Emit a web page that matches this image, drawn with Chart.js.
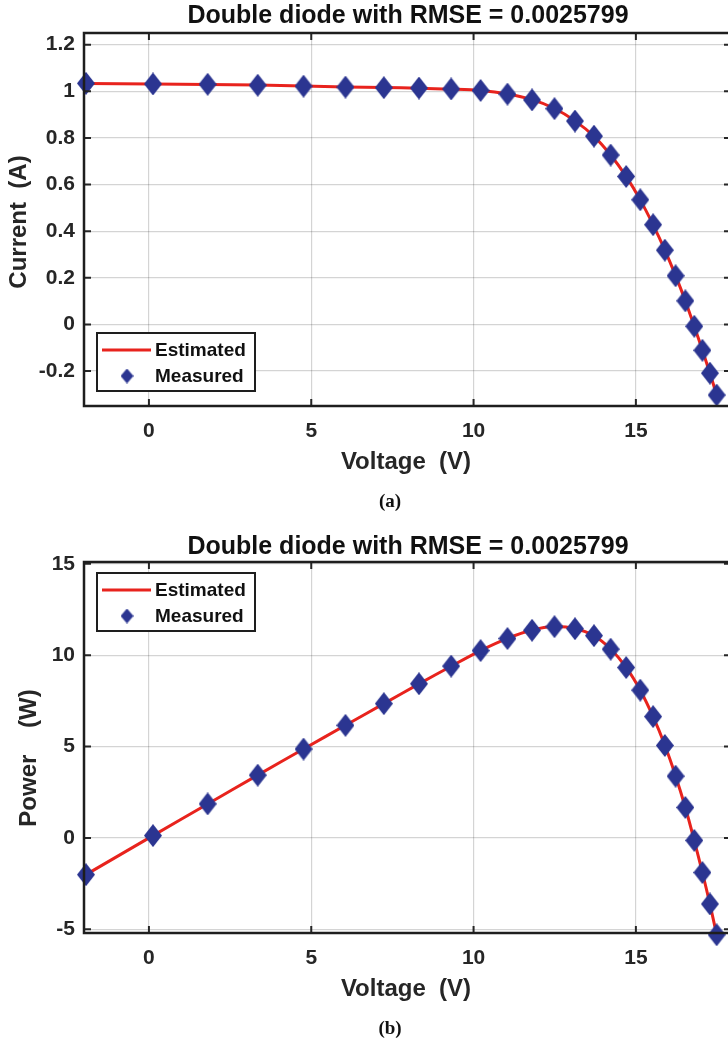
<!DOCTYPE html>
<html>
<head>
<meta charset="utf-8">
<script src="https://cdn.jsdelivr.net/npm/chart.js@4.4.1/dist/chart.umd.min.js"></script>
<style>
  html, body { margin: 0; padding: 0; background: #fff; }
  #wrap { position: relative; width: 728px; height: 1044px; overflow: hidden; }
  canvas { position: absolute; left: 0; }
</style>
</head>
<body>
<div id="wrap">
  <canvas id="ivChart" width="736" height="520" style="top:0"></canvas>
  <canvas id="pvChart" width="736" height="524" style="top:520px"></canvas>
</div>
<script>
// measured / estimated PV module data
const voltage = [-1.94, 0.1248, 1.8093, 3.3511, 4.7622, 6.0538, 7.2364, 8.3189, 9.3097, 10.2163, 11.0449, 11.8018, 12.4929,
  13.1231, 13.7094, 14.2221, 14.6995, 15.1346, 15.5311, 15.8929, 16.2229, 16.5241, 16.7987, 17.0499, 17.2793, 17.4885];
const measuredCurrent = [1.034, 1.0315, 1.030, 1.026, 1.022, 1.018, 1.0155, 1.014, 1.010, 1.0035, 0.988, 0.963, 0.9255,
  0.8725, 0.8075, 0.7265, 0.6345, 0.5345, 0.4275, 0.3185, 0.2085, 0.101, -0.008, -0.111, -0.209, -0.303];
const estimatedCurrent = [1.0335, 1.0312, 1.0294, 1.0268, 1.0225, 1.0183, 1.0158, 1.0132, 1.0091, 1.0031, 0.9884, 0.964, 0.9262,
  0.8731, 0.8069, 0.7268, 0.6348, 0.5341, 0.4271, 0.3189, 0.2092, 0.1008, -0.0085, -0.1112, -0.2088, -0.3027];
const measuredPower = [-2.006, 0.129, 1.864, 3.438, 4.867, 6.163, 7.349, 8.435, 9.403, 10.252, 10.912, 11.365, 11.562,
  11.450, 11.070, 10.332, 9.327, 8.089, 6.640, 5.062, 3.383, 1.669, -0.134, -1.893, -3.611, -5.299];
const estimatedPower = [-2.005, 0.1287, 1.8625, 3.4409, 4.8690, 6.1646, 7.3507, 8.4287, 9.3944, 10.2480, 10.9168, 11.3769, 11.5709,
  11.4578, 11.0622, 10.3366, 9.3312, 8.0834, 6.6335, 5.0683, 3.3938, 1.6656, -0.1428, -1.8960, -3.6079, -5.2948];

const voltageTicks = [0, 5, 10, 15];
const currentTicks = [-0.2, 0, 0.2, 0.4, 0.6, 0.8, 1, 1.2];
const powerTicks = [-5, 0, 5, 10, 15];

const titleText = 'Double diode with RMSE = 0.0025799';
const RED = '#e8231d';
const BLUE = '#2b3591';
const INK = '#262626';
const SANS = '"Liberation Sans", Arial, sans-serif';

function diamond(w, h) {
  const c = document.createElement('canvas');
  c.width = w; c.height = h;
  const g = c.getContext('2d');
  g.fillStyle = BLUE;
  g.beginPath();
  g.moveTo(w / 2, 0); g.lineTo(w, h / 2); g.lineTo(w / 2, h); g.lineTo(0, h / 2);
  g.closePath(); g.fill();
  return c;
}
const bigDiamond = diamond(18, 23);
const smallDiamond = diamond(13, 15);

function pts(xs, ys) {
  return xs.map((x, i) => ({ x: x, y: ys[i] }));
}

// axes box, inward ticks, titles, caption and the legend box
const framePlugin = {
  id: 'frame',
  afterDraw(chart, args, o) {
    const { ctx, chartArea: a, scales } = chart;
    ctx.save();
    ctx.strokeStyle = INK; ctx.lineWidth = 2;
    ctx.beginPath();
    scales.x.ticks.forEach(t => {
      const px = scales.x.getPixelForValue(t.value);
      ctx.moveTo(px, a.bottom); ctx.lineTo(px, a.bottom - 7);
      ctx.moveTo(px, a.top); ctx.lineTo(px, a.top + 7);
    });
    scales.y.ticks.forEach(t => {
      const py = scales.y.getPixelForValue(t.value);
      ctx.moveTo(a.left, py); ctx.lineTo(a.left + 7, py);
      ctx.moveTo(a.right, py); ctx.lineTo(a.right - 7, py);
    });
    ctx.stroke();
    ctx.lineWidth = 2.5; ctx.strokeStyle = '#1e1e1e';
    ctx.strokeRect(a.left, a.top, a.right - a.left + 2, a.bottom - a.top);

    ctx.fillStyle = '#111';
    ctx.textAlign = 'center'; ctx.textBaseline = 'middle';
    ctx.font = 'bold 25px ' + SANS;
    ctx.fillText(titleText, 408, o.titleY);
    ctx.fillStyle = INK;
    ctx.font = 'bold 24px ' + SANS;
    ctx.fillText('Voltage  (V)', 406, o.xTitleY);
    ctx.save();
    ctx.translate(o.yTitleX, o.yTitleY);
    ctx.rotate(-Math.PI / 2);
    ctx.fillText(o.yTitle, 0, 0);
    ctx.restore();
    ctx.fillStyle = '#111';
    ctx.font = 'bold 19px "Liberation Serif", "Times New Roman", serif';
    ctx.fillText(o.caption, 390, o.captionY);

    const lx = 97, ly = o.legendTop, lw = 158, lh = 58;
    ctx.fillStyle = '#fff';
    ctx.fillRect(lx, ly, lw, lh);
    ctx.lineWidth = 2; ctx.strokeStyle = '#1e1e1e';
    ctx.strokeRect(lx, ly, lw, lh);
    const ds = chart.data.datasets;
    const est = ds.find(d => d.showLine), meas = ds.find(d => !d.showLine);
    ctx.strokeStyle = RED; ctx.lineWidth = 3;
    ctx.beginPath(); ctx.moveTo(lx + 5, ly + 17); ctx.lineTo(lx + 54, ly + 17); ctx.stroke();
    ctx.drawImage(smallDiamond, lx + 30 - 6.5, ly + 43 - 7.5);
    ctx.fillStyle = '#111'; ctx.textAlign = 'left';
    ctx.font = 'bold 19px ' + SANS;
    ctx.fillText(est.label, lx + 58, ly + 18);
    ctx.fillText(meas.label, lx + 58, ly + 44);
    ctx.restore();
  }
};

function makeChart(id, measured, estimated, yMin, yMax, yTicks, o) {
  const h = document.getElementById(id).height;
  return new Chart(document.getElementById(id), {
    type: 'scatter',
    data: {
      datasets: [
        {
          label: 'Estimated',
          data: pts(voltage, estimated),
          showLine: true,
          borderColor: RED,
          borderWidth: 3,
          pointRadius: 0,
          tension: 0.3,
          clip: false,
          order: 2
        },
        {
          label: 'Measured',
          data: pts(voltage, measured),
          showLine: false,
          pointStyle: bigDiamond,
          backgroundColor: BLUE,
          clip: false,
          order: 1
        }
      ]
    },
    options: {
      responsive: false,
      animation: false,
      layout: { padding: { top: o.plotTop, right: 0, left: 0, bottom: 0 } },
      plugins: { legend: { display: false }, tooltip: { enabled: false }, frame: o },
      scales: {
        x: {
          type: 'linear', min: -2, max: 17.93,
          afterBuildTicks: s => { s.ticks = voltageTicks.map(v => ({ value: v })); },
          afterFit: s => { s.height = h - o.plotBottom; },
          ticks: { color: INK, font: { family: SANS, size: 21, weight: 'bold' }, padding: 13, callback: v => String(v) },
          grid: { color: 'rgba(0,0,0,0.17)', lineWidth: 1.2, drawTicks: false },
          border: { display: false }
        },
        y: {
          type: 'linear', min: yMin, max: yMax,
          afterBuildTicks: s => { s.ticks = yTicks.map(v => ({ value: v })); },
          afterFit: s => { s.width = 84; },
          ticks: { color: INK, font: { family: SANS, size: 21, weight: 'bold' }, padding: 9,
            callback: v => String(Math.round(v * 10) / 10) },
          grid: { color: 'rgba(0,0,0,0.17)', lineWidth: 1.2, drawTicks: false },
          border: { display: false }
        }
      }
    },
    plugins: [framePlugin]
  });
}

makeChart('ivChart', measuredCurrent, estimatedCurrent, -0.35, 1.25, currentTicks, {
  plotTop: 33, plotBottom: 406, titleY: 16, xTitleY: 462, yTitle: 'Current  (A)', yTitleX: 19, yTitleY: 222,
  caption: '(a)', captionY: 502, legendTop: 333
});
makeChart('pvChart', measuredPower, estimatedPower, -5.2, 15.1, powerTicks, {
  plotTop: 42, plotBottom: 413, titleY: 27, xTitleY: 469, yTitle: 'Power    (W)', yTitleX: 29, yTitleY: 238,
  caption: '(b)', captionY: 509, legendTop: 53
});
</script>
</body>
</html>
